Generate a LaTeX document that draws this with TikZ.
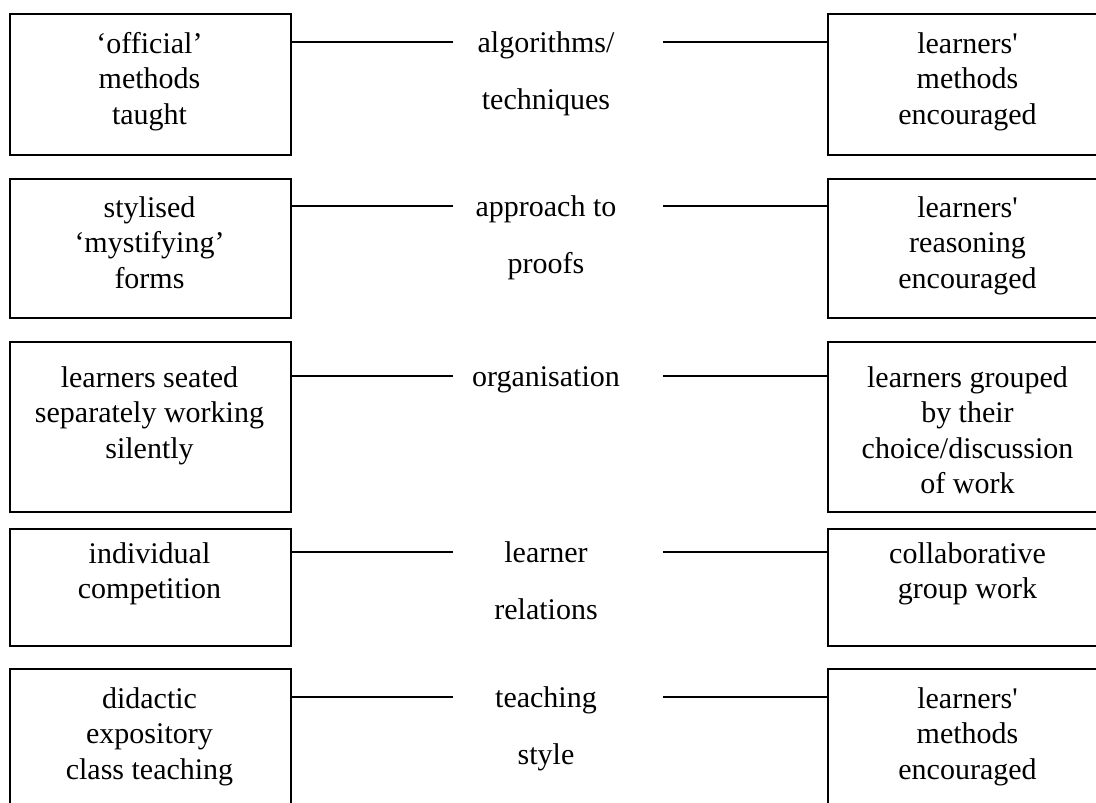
\documentclass[tikz,border=0pt]{standalone}
\usepackage{fontspec}
\setmainfont{Liberation Serif}
\begin{document}
\begin{tikzpicture}[x=1pt,y=-1pt,
  box/.style={draw=black, line width=1.6pt, rectangle, inner sep=0pt, minimum width=281pt, anchor=north west},
  link/.style={draw=black, line width=1.6pt},
  btext/.style={align=center, anchor=base, inner sep=0pt, font=\fontsize{30}{35.5}\selectfont},
  mtext/.style={align=center, anchor=base, inner sep=0pt, font=\fontsize{30}{57}\selectfont}]
\clip (0,0) rectangle (1096,803);
% left boxes
\node[box, minimum height=141pt] (L1) at (9,13) {};
\node[box, minimum height=139pt] (L2) at (9,178) {};
\node[box, minimum height=170pt] (L3) at (9,341) {};
\node[box, minimum height=117pt] (L4) at (9,528) {};
\node[box, minimum height=200pt] (L5) at (9,668) {};
% right boxes
\node[box, minimum height=141pt] (R1) at (827,13) {};
\node[box, minimum height=139pt] (R2) at (827,178) {};
\node[box, minimum height=170pt] (R3) at (827,341) {};
\node[box, minimum height=117pt] (R4) at (827,528) {};
\node[box, minimum height=200pt] (R5) at (827,668) {};
% left texts (anchor = baseline of last line)
\node[btext] (tL1) at (149.5,124) {‘official’\\methods\\taught};
\node[btext] (tL2) at (149.5,288) {stylised\\‘mystifying’\\forms};
\node[btext] (tL3) at (149.5,458) {learners seated\\separately working\\silently};
\node[btext] (tL4) at (149.5,598.5) {individual\\competition};
\node[btext] (tL5) at (149.5,779) {didactic\\expository\\class teaching};
% right texts
\node[btext] (tR1) at (967.5,124) {learners\textquotesingle\\methods\\encouraged};
\node[btext] (tR2) at (967.5,288) {learners\textquotesingle\\reasoning\\encouraged};
\node[btext] (tR3) at (967.5,493.5) {learners grouped\\by their\\choice/discussion\\of work};
\node[btext] (tR4) at (967.5,598.5) {collaborative\\group work};
\node[btext] (tR5) at (967.5,779) {learners\textquotesingle\\methods\\encouraged};
% middle labels
\node[mtext] (m1) at (546,109) {algorithms/\\techniques};
\node[mtext] (m2) at (546,273) {approach to\\proofs};
\node[mtext] (m3) at (546,386) {organisation};
\node[mtext] (m4) at (546,619) {learner\\relations};
\node[mtext] (m5) at (546,764) {teaching\\style};
% connector ends
\coordinate (a1) at (453,42); \coordinate (b1) at (663,42);
\coordinate (a2) at (453,206); \coordinate (b2) at (663,206);
\coordinate (a3) at (453,376); \coordinate (b3) at (663,376);
\coordinate (a4) at (453,552); \coordinate (b4) at (663,552);
\coordinate (a5) at (453,697); \coordinate (b5) at (663,697);
\foreach \i in {1,...,5}{
  \draw[link] (L\i.east |- a\i) -- (a\i);
  \draw[link] (b\i) -- (R\i.west |- b\i);
}
\end{tikzpicture}
\end{document}
